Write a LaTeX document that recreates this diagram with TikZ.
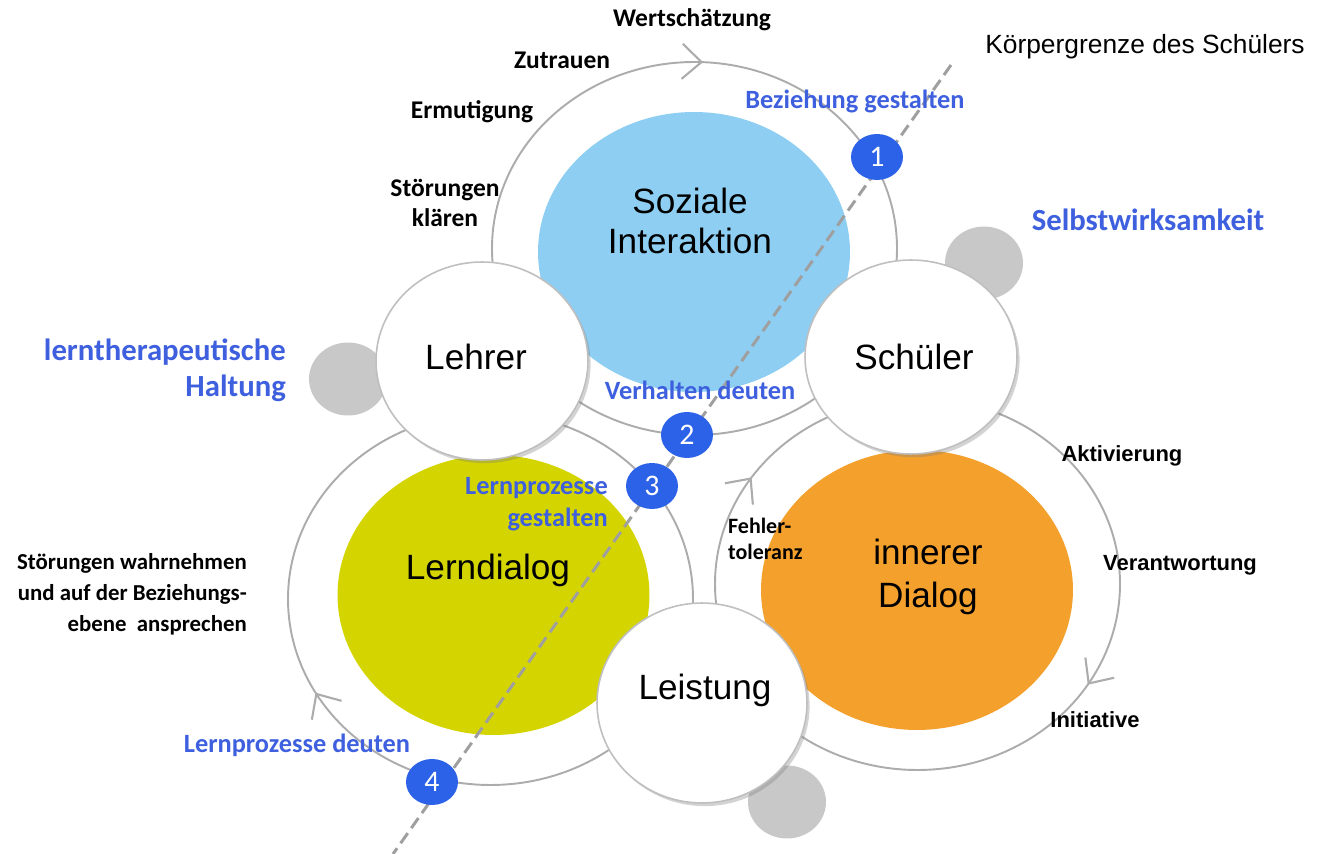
\documentclass[tikz,border=0pt]{standalone}
\usepackage{fontspec}
\setmainfont{Carlito}
\newfontfamily\arialfont{Liberation Sans}
\usetikzlibrary{arrows.meta, decorations.markings, shadows, shapes.geometric}

\definecolor{blautext}{RGB}{62,96,222}
\definecolor{blaupunkt}{RGB}{44,98,232}
\definecolor{hellblau}{RGB}{141,206,242}
\definecolor{gelbgruen}{RGB}{211,212,0}
\definecolor{kreisorange}{RGB}{244,160,44}
\definecolor{kreisgrau}{RGB}{200,200,200}
\definecolor{ringgrau}{RGB}{172,172,172}

\begin{document}
\begin{tikzpicture}[x=0.02cm,y=-0.02cm,
    ring/.style={draw=ringgrau,line width=1.1pt},
    zeiger/.style={postaction={decorate,decoration={markings,
        mark=at position #1 with {\arrow{Straight Barb[length=11pt,width=20pt,line width=1.2pt,color=ringgrau]}}}}},
    feld/.style={ellipse,inner sep=0pt,minimum width=6.24cm,minimum height=5.6cm},
    person/.style={ellipse,fill=white,draw=gray!50,line width=0.9pt,inner sep=0pt,
        drop shadow={opacity=0.35,shadow xshift=1.5pt,shadow yshift=-1.8pt}},
    gross/.style={font=\arialfont\fontsize{20}{23}\selectfont},
    punkt/.style={ellipse,fill=kreisgrau,inner sep=0pt,minimum width=1.56cm,minimum height=1.46cm},
    nummer/.style={ellipse,fill=blaupunkt,text=white,inner sep=0pt,minimum width=1.04cm,
        minimum height=0.92cm,font=\fontsize{17}{18}\selectfont},
    schwarz/.style={font=\bfseries\fontsize{14.5}{17.5}\selectfont},
    arialfett/.style={font=\arialfont\bfseries\fontsize{12.5}{15}\selectfont},
    blau/.style={text=blautext,font=\bfseries\fontsize{15}{18}\selectfont},
    blaugross/.style={text=blautext,font=\bfseries\fontsize{17.5}{20.5}\selectfont},
    grenze/.style={draw=gray!75,line width=1.7pt,dash pattern=on 7pt off 3.5pt}]

    \useasboundingbox (0,0) rectangle (1323,854);

    %%% KREISLAEUFE %%%
    \coordinate (mOben)   at (694.5,248.5);
    \coordinate (mLinks)  at (490.5,599);
    \coordinate (mRechts) at (917.5,584);
    \draw[ring,zeiger=0.757] (mOben) ellipse[x radius=202.5,y radius=186.5];
    \draw[ring,zeiger=0.419] (mLinks) ellipse[x radius=202.5,y radius=186];
    \draw[ring,zeiger=0.088,zeiger=0.594] (mRechts) ellipse[x radius=202.5,y radius=186];

    %%% GRAUE PUNKTE %%%
    \node[punkt] (gLehrer)   at (348,379) {};
    \node[punkt] (gSchueler) at (984,263) {};
    \node[punkt] (gLeistung) at (787,802) {};

    %%% FELDER %%%
    \node[feld,fill=hellblau]    (soz)  at (694,252) {};
    \node[feld,fill=gelbgruen]   (lern) at (493.5,595) {};
    \node[feld,fill=kreisorange] (inn)  at (917,590) {};
    \node[gross,align=center] (sozT) at (690,221) {Soziale\\Interaktion};
    \node[gross] (lernT) at (488,570) {Lerndialog};
    \node[gross,align=center,font=\arialfont\fontsize{20}{24}\selectfont] (innT) at (928,577) {innerer\\Dialog};

    %%% PERSONEN %%%
    \node[person,minimum width=4.24cm,minimum height=3.96cm] (lehrer)   at (482,361) {};
    \node[person,minimum width=4.24cm,minimum height=3.88cm] (schueler) at (911,357) {};
    \node[person,minimum width=4.2cm,minimum height=4cm]     (leistung) at (702,703) {};
    \node[gross] at ([shift={(-6,-4)}]lehrer.center)    {Lehrer};
    \node[gross] at ([shift={(3,0)}]schueler.center)    {Schüler};
    \node[gross] at ([shift={(3,-13)}]leistung.center)  {Leistung};

    %%% KOERPERGRENZE %%%
    \coordinate (gTop) at (951,65);
    \coordinate (gBot) at (393,854);
    \draw[grenze] (gTop) -- (gBot);
    \node[font=\arialfont\fontsize{15}{18}\selectfont] (kg) at (1145,47) {Körpergrenze des Schülers};

    % Nummern
    \node[nummer] (n1) at (877,157) {1};
    \node[nummer] (n2) at (687,435) {2};
    \node[nummer] (n3) at (652,486) {3};
    \node[nummer] (n4) at (432,782) {4};

    %%% BESCHRIFTUNGEN %%%
    % oben
    \node[schwarz] (wert) at (692,20)  {Wertschätzung};
    \node[schwarz] (zutr) at (562,60)  {Zutrauen};
    \node[schwarz] (ermu) at (472,112) {Ermutigung};
    \node[schwarz,align=center] (stoer) at (445,203) {Störungen\\klären};
    \node[blau] (bez) at (855,101) {Beziehung gestalten};
    \node[blaugross] (selbst) at (1148,220) {Selbstwirksamkeit};

    % Mitte und links
    \node[blaugross,align=right,anchor=east] (halt) at (292,370) {lerntherapeutische\\Haltung};
    \node[blau] (verh) at (700,390) {Verhalten deuten};
    \node[blau,align=right,anchor=east] (lpg) at (614,504) {Lernprozesse\\gestalten};
    \node[schwarz,align=right,anchor=east,font=\bfseries\fontsize{13}{17.6}\selectfont]
        (stwahr) at (253,594) {Störungen wahrnehmen\\und auf der Beziehungs-\\ebene~ ansprechen};
    \node[blau] (lpd) at (297,745) {Lernprozesse deuten};

    % rechts
    \node[arialfett] (akt)  at (1122,456) {Aktivierung};
    \node[arialfett] (ver)  at (1180,565) {Verantwortung};
    \node[arialfett] (init) at (1095,720) {Initiative};
    \node[align=left,anchor=west,font=\bfseries\fontsize{12.5}{15}\selectfont] (fehl) at (722,539) {Fehler-\\toleranz};
\end{tikzpicture}
\end{document}
